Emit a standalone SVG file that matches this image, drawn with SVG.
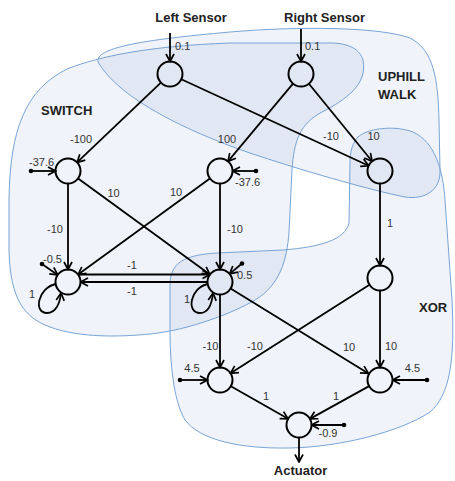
<svg xmlns="http://www.w3.org/2000/svg" width="455" height="481" viewBox="0 0 455 481">
<style>
.region{fill:#6987c3;fill-opacity:0.1;stroke:#78a5d7;stroke-width:1}
.node{fill:none;stroke:#000;stroke-width:2}
.edge{fill:none;stroke:#000;stroke-width:1.8;marker-end:url(#arr)}
.dot{fill:#000}
.w{font-family:"Liberation Sans",Arial,sans-serif;font-size:11px;fill:#333}
.t{font-family:"Liberation Sans",Arial,sans-serif;font-size:13px;font-weight:bold;fill:#222}
.c{text-anchor:middle}
</style>
<defs>
<marker id="arr" viewBox="0 0 10 10" refX="9" refY="5" markerWidth="10" markerHeight="10" markerUnits="userSpaceOnUse" orient="auto">
<path d="M1.5,1 L9,5 L1.5,9" fill="none" stroke="#000" stroke-width="1.7"/>
</marker>
</defs>
<rect width="455" height="481" fill="#fff"/>
<g id="regions">
<path id="switch-region" class="region" d="M363,60 C368,85 345,100 322,112 C300,124 294,140 292,170 L289,232 C287,260 280,285 255,300 C235,312 190,330 150,334 C120,337 80,338 50,327 C25,318 10,300 9,250 L9,200 C10,130 25,90 67,69 C100,56 150,46 230,43 L330,43 C350,43 360,50 363,60 Z"/>
<path id="uphill-region" class="region" d="M98,62 C95,48 140,40 230,32 C300,26 380,27 410,38 C434,50 438,80 439,120 L440,170 C441,190 425,200 405,197 C370,190 300,170 247,152 C190,132 120,100 98,62 Z"/>
<path id="xor-region" class="region" d="M357,138 C366,128 395,125 413,132 C435,142 443,170 445,200 L452,300 C455,360 450,395 430,412 C400,432 340,447 290,448 C240,449 200,440 185,420 C173,400 170,360 170,330 L170,285 C170,262 185,255 217,253 L283,250 C320,247 345,240 349,223 L350,163 C350,152 352,145 357,138 Z"/>
</g>
<g id="region-labels">
<text class="t" x="41" y="115">SWITCH</text>
<text class="t" x="378" y="81">UPHILL</text>
<text class="t" x="378" y="99">WALK</text>
<text class="t" x="419" y="312">XOR</text>
</g>
<g id="connectors">
<path class="edge" d="M170,33 L170,61.5"/>
<path class="edge" d="M301,29 L301,61.5"/>
<path class="edge" d="M160.9,82.6 L77.1,162.4"/>
<path class="edge" d="M181.3,79.2 L368.7,165.8"/>
<path class="edge" d="M293,83.6 L228,161.4"/>
<path class="edge" d="M308.9,83.7 L372.1,161.3"/>
<path class="edge" d="M68,183.5 L68,269.5"/>
<path class="edge" d="M78.1,178.4 L209.9,274.6"/>
<path class="edge" d="M209.9,178.4 L78.1,274.6"/>
<path class="edge" d="M220,183.5 L220,269.5"/>
<path class="edge" d="M78,274.5 L210,274.5"/>
<path class="edge" d="M207.5,282 L80.5,282"/>
<path class="edge" d="M55.6,284 C38,288 33,313 47,313 C56,313 60,303 61,293"/>
<path class="edge" d="M207.6,284 C190,288 186,313 200,313 C209,313 212,303 213,293"/>
<path class="edge" d="M380,183.5 L380,265.5"/>
<path class="edge" d="M220,294.5 L220,367.5"/>
<path class="edge" d="M230.6,288.6 L368.4,373.4"/>
<path class="edge" d="M369.5,284.7 L230.5,373.3"/>
<path class="edge" d="M380,290.5 L380,367.5"/>
<path class="edge" d="M230.9,386.2 L288.1,418.8"/>
<path class="edge" d="M369.1,386.1 L309.9,418.9"/>
<path class="edge" d="M299,437.5 L299,462"/>
<path class="edge" d="M31,171 L55.5,171"/>
<path class="edge" d="M256,171 L232.5,171"/>
<path class="edge" d="M42,264 L57.7,274.9"/>
<path class="edge" d="M242,263.5 L229.6,273.9"/>
<path class="edge" d="M180,380 L207.5,380"/>
<path class="edge" d="M427,380 L392.5,380"/>
<path class="edge" d="M344,425 L311.5,425"/>
<circle class="dot" cx="31" cy="171" r="2.3"/>
<circle class="dot" cx="256" cy="171" r="2.3"/>
<circle class="dot" cx="42" cy="264" r="2.3"/>
<circle class="dot" cx="242" cy="263.5" r="2.3"/>
<circle class="dot" cx="180" cy="380" r="2.3"/>
<circle class="dot" cx="427" cy="380" r="2.3"/>
<circle class="dot" cx="344" cy="425" r="2.3"/>
</g>
<g id="weights">
<text class="w" x="175" y="50">0.1</text>
<text class="w" x="305" y="50">0.1</text>
<text class="w c" x="81" y="143">-100</text>
<text class="w c" x="227" y="143">100</text>
<text class="w" x="29" y="166">-37.6</text>
<text class="w" x="235" y="186">-37.6</text>
<text class="w c" x="113.5" y="197">10</text>
<text class="w c" x="176" y="196">10</text>
<text class="w c" x="55" y="233">-10</text>
<text class="w c" x="235" y="233">-10</text>
<text class="w" x="43" y="263">-0.5</text>
<text class="w c" x="132" y="269">-1</text>
<text class="w c" x="132" y="295">-1</text>
<text class="w" x="237" y="279">0.5</text>
<text class="w" x="29" y="298">1</text>
<text class="w" x="184" y="303">1</text>
<text class="w c" x="331" y="140">-10</text>
<text class="w c" x="373.5" y="140">10</text>
<text class="w" x="387" y="227">1</text>
<text class="w c" x="210.5" y="350">-10</text>
<text class="w c" x="255" y="350">-10</text>
<text class="w c" x="349" y="351">10</text>
<text class="w c" x="391" y="350">10</text>
<text class="w c" x="192" y="372">4.5</text>
<text class="w c" x="412.5" y="372">4.5</text>
<text class="w c" x="266" y="400">1</text>
<text class="w c" x="336" y="400">1</text>
<text class="w c" x="328" y="437">-0.9</text>
</g>
<g id="node-left-sensor"><text class="t c" x="191" y="22">Left Sensor</text><circle class="node" cx="170" cy="74" r="12.5"/></g>
<g id="node-right-sensor"><text class="t c" x="324.5" y="22">Right Sensor</text><circle class="node" cx="301" cy="74" r="12.5"/></g>
<g id="node-switch-a"><circle class="node" cx="68" cy="171" r="12.5"/></g>
<g id="node-switch-b"><circle class="node" cx="220" cy="171" r="12.5"/></g>
<g id="node-uphill"><circle class="node" cx="380" cy="171" r="12.5"/></g>
<g id="node-switch-c"><circle class="node" cx="68" cy="282" r="12.5"/></g>
<g id="node-switch-d"><circle class="node" cx="220" cy="282" r="12.5"/></g>
<g id="node-xor-top"><circle class="node" cx="380" cy="278" r="12.5"/></g>
<g id="node-xor-left"><circle class="node" cx="220" cy="380" r="12.5"/></g>
<g id="node-xor-right"><circle class="node" cx="380" cy="380" r="12.5"/></g>
<g id="node-actuator"><circle class="node" cx="299" cy="425" r="12.5"/><text class="t c" x="300.5" y="475">Actuator</text></g>
</svg>
